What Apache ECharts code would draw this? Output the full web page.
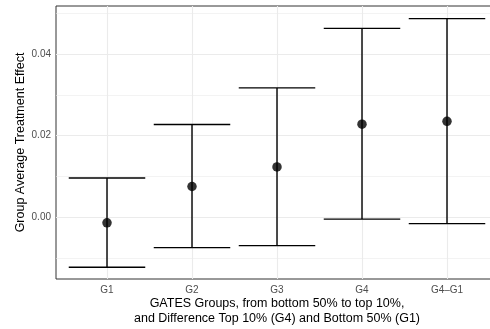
<!DOCTYPE html>
<html>
<head>
<meta charset="utf-8">
<script src="https://cdn.jsdelivr.net/npm/echarts@6/dist/echarts.min.js"></script>
<style>
  html, body { margin: 0; padding: 0; background: #ffffff; }
  #chart { width: 490px; height: 329px; }
</style>
</head>
<body>
<div id="chart"></div>
<script>
// GATES estimates with confidence bounds
const categories = ['G1', 'G2', 'G3', 'G4', 'G4\u2013G1'];
const estimate = [-0.0014, 0.0075, 0.0123, 0.0228, 0.0235];
const lower = [-0.0123, -0.0075, -0.0070, -0.0005, -0.0016];
const upper = [0.0096, 0.0227, 0.0317, 0.0463, 0.0487];

// axis ticks and grid positions
const yMajorTicks = [0, 0.02, 0.04];
const yMinorTicks = [-0.01, 0.01, 0.03, 0.05];
const xTicks = [0, 1, 2, 3, 4];

const FONT = 'Liberation Sans, Arial, sans-serif';
const GRID_COLOR = '#ebebeb';

const chart = echarts.init(document.getElementById('chart'), null, { renderer: 'canvas' });

const gridLines = []
  .concat(yMinorTicks.map(v => ({ yAxis: v, lineStyle: { color: GRID_COLOR, width: 0.6, type: 'solid' } })))
  .concat(yMajorTicks.map(v => ({ yAxis: v, lineStyle: { color: GRID_COLOR, width: 1.1, type: 'solid' } })))
  .concat(xTicks.map(v => ({ xAxis: v, lineStyle: { color: GRID_COLOR, width: 1.1, type: 'solid' } })));

const option = {
  animation: false,
  backgroundColor: '#ffffff',
  grid: {
    // the panel runs a little past the right edge of the canvas
    left: 56, top: 6, bottom: 50, right: -8,
    outerBoundsMode: 'none',
    show: true, backgroundColor: '#ffffff', borderColor: '#333333', borderWidth: 1,
    containLabel: false
  },
  xAxis: {
    type: 'value',
    min: -0.6, max: 4.6,
    axisLine: { show: false },
    splitLine: { show: false },
    axisTick: { show: true, customValues: xTicks, length: 3, lineStyle: { color: '#333333', width: 1 } },
    axisLabel: {
      customValues: xTicks, margin: 6,
      color: '#4d4d4d', fontSize: 10, fontFamily: FONT,
      formatter: v => categories[Math.round(v)]
    },
    name: 'GATES Groups, from bottom 50% to top 10%,\nand Difference Top 10% (G4) and Bottom 50% (G1)',
    nameLocation: 'middle', nameGap: 17, nameMoveOverlap: false,
    nameTextStyle: { color: '#000000', fontSize: 12.5, fontFamily: FONT, lineHeight: 14.7, verticalAlign: 'top' }
  },
  yAxis: {
    type: 'value',
    min: -0.0152, max: 0.0518,
    axisLine: { show: false },
    splitLine: { show: false },
    axisTick: { show: true, customValues: yMajorTicks, length: 3, lineStyle: { color: '#333333', width: 1 } },
    axisLabel: {
      customValues: yMajorTicks, margin: 5,
      color: '#4d4d4d', fontSize: 10, fontFamily: FONT,
      formatter: v => v.toFixed(2)
    },
    name: 'Group Average Treatment Effect',
    nameLocation: 'middle', nameGap: 29, nameMoveOverlap: false,
    nameTextStyle: { color: '#000000', fontSize: 12.5, fontFamily: FONT }
  },
  series: [
    {
      // panel grid lines, kept beneath the marks
      type: 'line', data: [], silent: true, z: 1,
      markLine: { z: 1, silent: true, symbol: ['none', 'none'], label: { show: false }, animation: false, data: gridLines }
    },
    {
      type: 'custom', z: 10,
      data: categories.map((c, i) => [i, lower[i], upper[i]]),
      renderItem: (params, api) => {
        const x = api.value(0);
        const lo = api.coord([x, api.value(1)]);
        const hi = api.coord([x, api.value(2)]);
        const half = api.size([0.9, 0])[0] / 2;
        const style = { stroke: '#000000', lineWidth: 1.4 };
        return {
          type: 'group',
          children: [
            { type: 'line', shape: { x1: lo[0], y1: lo[1], x2: hi[0], y2: hi[1] }, style },
            { type: 'line', shape: { x1: hi[0] - half, y1: hi[1], x2: hi[0] + half, y2: hi[1] }, style },
            { type: 'line', shape: { x1: lo[0] - half, y1: lo[1], x2: lo[0] + half, y2: lo[1] }, style }
          ]
        };
      }
    },
    {
      type: 'scatter', z: 11,
      symbol: 'circle', symbolSize: 9.5,
      itemStyle: { color: '#000000' },
      data: categories.map((c, i) => [i, estimate[i]])
    }
  ]
};

chart.setOption(option);
</script>
</body>
</html>
